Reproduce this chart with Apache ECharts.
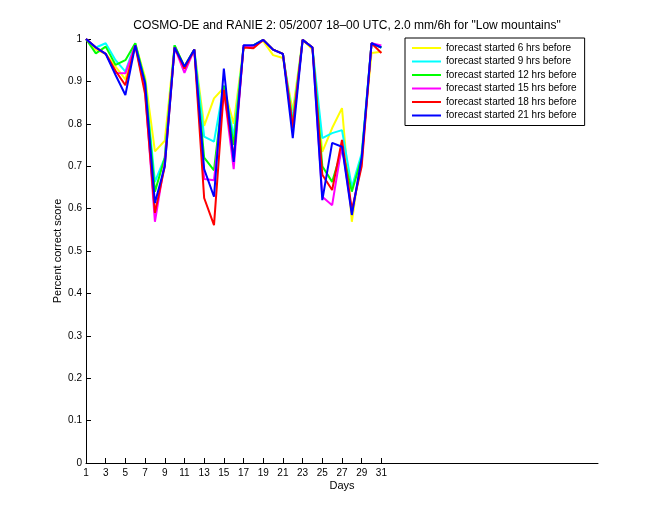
<!DOCTYPE html>
<html>
<head>
<meta charset="utf-8">
<title>COSMO-DE and RANIE 2</title>
<script src="https://cdn.jsdelivr.net/npm/echarts@6/dist/echarts.min.js"></script>
<style>
  html, body { margin: 0; padding: 0; background: #fff; }
  #chart { width: 660px; height: 520px; }
</style>
</head>
<body>
<div id="chart"></div>
<script>
// days of the month (x axis)
const days = [1, 2, 3, 4, 5, 6, 7, 8, 9, 10, 11, 12, 13, 14, 15, 16, 17, 18, 19, 20, 21, 22, 23, 24, 25, 26, 27, 28, 29, 30, 31];
// tick labels shown on the x axis
const dayTicks = [1, 3, 5, 7, 9, 11, 13, 15, 17, 19, 21, 23, 25, 27, 29, 31];

const seriesNames = [
  "forecast started 6 hrs before",
  "forecast started 9 hrs before",
  "forecast started 12 hrs before",
  "forecast started 15 hrs before",
  "forecast started 18 hrs before",
  "forecast started 21 hrs before"
];

// percent correct score per day
const started6 = [1.0, 0.975, 0.965, 0.935, 0.905, 0.99, 0.91, 0.735, 0.76, 0.985, 0.935, 0.975, 0.795, 0.86, 0.885, 0.80, 0.98, 0.985, 0.995, 0.962, 0.955, 0.83, 0.998, 0.975, 0.734, 0.79, 0.837, 0.569, 0.73, 0.967, 0.97];
const started9 = [1.0, 0.98, 0.99, 0.95, 0.923, 0.99, 0.90, 0.663, 0.72, 0.985, 0.93, 0.975, 0.77, 0.758, 0.89, 0.77, 0.98, 0.985, 0.998, 0.975, 0.965, 0.81, 0.998, 0.98, 0.766, 0.778, 0.785, 0.65, 0.73, 0.99, 0.98];
const started12 = [1.0, 0.966, 0.982, 0.939, 0.95, 0.99, 0.90, 0.64, 0.72, 0.985, 0.935, 0.975, 0.72, 0.69, 0.89, 0.75, 0.98, 0.985, 0.998, 0.975, 0.965, 0.80, 0.998, 0.98, 0.70, 0.663, 0.74, 0.64, 0.72, 0.99, 0.98];
const started15 = [1.0, 0.98, 0.965, 0.92, 0.919, 0.985, 0.88, 0.569, 0.71, 0.98, 0.92, 0.975, 0.67, 0.667, 0.88, 0.693, 0.985, 0.98, 0.998, 0.975, 0.965, 0.79, 0.998, 0.98, 0.628, 0.608, 0.75, 0.59, 0.71, 0.99, 0.985];
const started18 = [1.0, 0.98, 0.965, 0.925, 0.891, 0.985, 0.87, 0.59, 0.70, 0.98, 0.93, 0.975, 0.625, 0.561, 0.88, 0.72, 0.98, 0.978, 0.998, 0.975, 0.965, 0.79, 0.998, 0.98, 0.68, 0.644, 0.762, 0.597, 0.70, 0.99, 0.967];
const started21 = [1.0, 0.98, 0.965, 0.915, 0.868, 0.985, 0.895, 0.613, 0.70, 0.98, 0.935, 0.975, 0.693, 0.628, 0.93, 0.71, 0.985, 0.985, 0.998, 0.975, 0.965, 0.766, 0.998, 0.98, 0.62, 0.755, 0.746, 0.585, 0.72, 0.99, 0.98];

const allValues = [started6, started9, started12, started15, started18, started21];
const colors = ["#ffff00", "#00ffff", "#00ff00", "#ff00ff", "#ff0000", "#0000ff"];

const font = "Liberation Sans, Arial, Helvetica, sans-serif";

let myChart = echarts.init(document.getElementById("chart"), null, { renderer: "canvas" });

// build one line per forecast start
let series = allValues.map(function (vals, i) {
  return {
    name: seriesNames[i],
    type: "line",
    data: days.map(function (d, k) { return [d, vals[k]]; }),
    showSymbol: false,
    symbol: "none",
    lineStyle: { color: colors[i], width: 2 },
    itemStyle: { color: colors[i] },
    z: 2 + i
  };
});

myChart.setOption({
  backgroundColor: "#fff",
  animation: false,
  color: colors,
  title: {
    text: "COSMO-DE and RANIE 2: 05/2007 18\u201300 UTC, 2.0 mm/6h for \"Low mountains\"",
    left: 342,
    top: 15,
    textAlign: "center",
    textStyle: { fontFamily: font, fontSize: 12, fontWeight: "normal", color: "#000" }
  },
  legend: {
    orient: "vertical",
    left: 405,
    top: 38,
    padding: [5, 8, 5, 7],
    itemGap: 3.5,
    itemWidth: 29,
    itemHeight: 2,
    icon: "rect",
    borderColor: "#000",
    borderWidth: 1,
    borderRadius: 0,
    backgroundColor: "#fff",
    textStyle: { fontFamily: font, fontSize: 10, color: "#000" },
    data: seriesNames
  },
  grid: {
    left: 86,
    right: 62,
    top: 39,
    bottom: 57,
    containLabel: false
  },
  xAxis: {
    type: "value",
    min: 1,
    max: 53,
    name: "Days",
    nameLocation: "middle",
    nameGap: 17,
    nameMoveOverlap: false,
    nameTextStyle: { fontFamily: font, fontSize: 11, color: "#000" },
    axisLine: { lineStyle: { color: "#000", width: 1 } },
    axisTick: { inside: true, length: 5, customValues: dayTicks, lineStyle: { color: "#000" } },
    axisLabel: { customValues: dayTicks, fontFamily: font, fontSize: 10, color: "#000", margin: 5 },
    splitLine: { show: false }
  },
  yAxis: {
    type: "value",
    min: 0,
    max: 1,
    interval: 0.1,
    name: "Percent correct score",
    nameLocation: "middle",
    nameGap: 23,
    nameMoveOverlap: false,
    nameTextStyle: { fontFamily: font, fontSize: 11, color: "#000" },
    axisLine: { show: true, lineStyle: { color: "#000", width: 1 } },
    axisTick: { show: true, inside: true, length: 5, lineStyle: { color: "#000" } },
    axisLabel: { fontFamily: font, fontSize: 10, color: "#000", margin: 4 },
    splitLine: { show: false }
  },
  series: series
});
</script>
</body>
</html>
